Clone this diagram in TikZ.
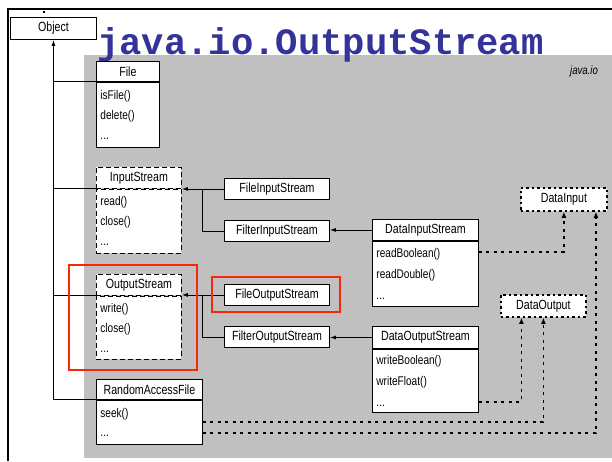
\documentclass[tikz,border=0pt]{standalone}
\usepackage{fontspec}
\newfontfamily\umlfont{Liberation Sans}[FakeStretch=0.8]
\newfontfamily\titlefont{Liberation Mono}
\usetikzlibrary{arrows.meta}
\definecolor{slidegray}{RGB}{192,192,192}
\definecolor{titleblue}{RGB}{51,51,153}
\definecolor{hilitered}{RGB}{245,40,10}
\tikzstyle{head}=[draw, fill=white, line width=0.9pt, anchor=north west, inner sep=0pt, minimum height=21pt, font=\umlfont\fontsize{13.3}{13.3}\selectfont]
\tikzstyle{body}=[draw, fill=white, line width=0.9pt, anchor=north west, inner sep=4pt, align=left, font=\umlfont\fontsize{12.6}{20}\selectfont]
\tikzstyle{abstr}=[dash pattern=on 5pt off 3pt]
\tikzstyle{iface}=[draw, fill=white, line width=1.8pt, dash pattern=on 2.5pt off 3pt, anchor=north west, inner sep=0pt, minimum height=23pt, font=\umlfont\fontsize{13.3}{13.3}\selectfont]
\tikzstyle{inh}=[line width=0.9pt, -{Latex[length=6pt,width=4pt]}]
\tikzstyle{real}=[line width=1.8pt, dash pattern=on 3pt off 4.5pt, -{Latex[length=6pt,width=5pt]}]
\tikzstyle{hilite}=[draw=hilitered, line width=2pt]

\begin{document}
\begin{tikzpicture}[x=1pt,y=-1pt]
\useasboundingbox (0,0) rectangle (612,461);
\fill[slidegray] (84,55) rectangle (612,458);
\draw[line width=2pt] (8.3,461) -- (8.3,9) -- (612,9);
\fill (43,11) rectangle (45,13);
\node[anchor=base west, inner sep=0pt, text=titleblue, font=\titlefont\bfseries\fontsize{37.2}{37.2}\selectfont] (Title) at (97,54) {java.io.OutputStream};
\node[inner sep=0pt, font=\umlfont\itshape\fontsize{12}{12}\selectfont] (Pkg) at (584,71) {java.io};
\node[head, minimum width=86pt, minimum height=22pt] (Obj) at (10,17) {Object};
\node[head, minimum width=63pt, minimum height=20pt] (FileH) at (96,61) {File};
\node[body, text width=55pt, minimum height=65pt] (FileB) at (FileH.south west) {isFile()\\delete()\\...};
\node[head, abstr, minimum width=85pt] (InsH) at (96,167) {InputStream};
\node[body, abstr, text width=77pt, minimum height=64pt] (InsB) at (InsH.south west) {read()\\close()\\...};
\node[head, abstr, minimum width=85pt] (OsH) at (96,274) {OutputStream};
\node[body, abstr, text width=77pt, minimum height=63pt] (OsB) at (OsH.south west) {write()\\close()\\...};
\node[head, minimum width=106pt, minimum height=20pt] (RafH) at (96,379) {RandomAccessFile};
\node[body, text width=98pt, minimum height=44pt, font=\umlfont\fontsize{12.6}{19}\selectfont] (RafB) at (RafH.south west) {seek()\\...};
\node[head, minimum width=105pt] (Fis) at (224,178) {FileInputStream};
\node[head, minimum width=105pt] (FltIn) at (224,220) {FilterInputStream};
\node[head, minimum width=105pt] (Fos) at (224,284) {FileOutputStream};
\node[head, minimum width=105pt] (FltOut) at (224,326) {FilterOutputStream};
\node[head, minimum width=106pt] (DisH) at (372,219) {DataInputStream};
\node[body, text width=98pt, minimum height=65pt, font=\umlfont\fontsize{12.6}{21}\selectfont] (DisB) at (DisH.south west) {readBoolean()\\readDouble()\\...};
\node[head, minimum width=106pt, minimum height=22pt] (DosH) at (372,326) {DataOutputStream};
\node[body, text width=98pt, minimum height=63pt, font=\umlfont\fontsize{12.6}{21}\selectfont] (DosB) at (DosH.south west) {writeBoolean()\\writeFloat()\\...};
\node[iface, minimum width=86pt] (DI) at (520,187) {DataInput};
\node[iface, minimum width=85pt, minimum height=22pt] (DO) at (500,294) {DataOutput};
\draw[inh] (RafH.south west) -| (Obj.south);
\draw[line width=0.9pt] (FileH.south west) -- (FileH.south west -| Obj.south);
\draw[line width=0.9pt] (InsH.south west) -- (InsH.south west -| Obj.south);
\draw[line width=0.9pt] (OsH.south west) -- (OsH.south west -| Obj.south);
\draw[inh] (Fis.west) -- (Fis.west -| InsH.east);
\draw[line width=0.9pt] (FltIn.west) -| ([xshift=21pt]Fis.west -| InsH.east);
\draw[inh] (DisH.west) -- (DisH.west -| FltIn.east);
\draw[inh] (Fos.west) -- (Fos.west -| OsH.east);
\draw[line width=0.9pt] (FltOut.west) -| ([xshift=21pt]Fos.west -| OsH.east);
\draw[inh] (DosH.west) -- (DosH.west -| FltOut.east);
\draw[real] ([yshift=-11pt]DisB.north east) -| (DI.south);
\draw[real] ([yshift=11pt]DosB.south east) -| ([xshift=-22pt]DO.south);
\draw[real] (RafB.east) -| (DO.south);
\draw[real] ([yshift=-11pt]RafB.east) -| ([xshift=32pt]DI.south);
\draw[hilite] (69,265) rectangle (197,370);
\draw[hilite] (212,277) rectangle (340,312);
\end{tikzpicture}
\end{document}
